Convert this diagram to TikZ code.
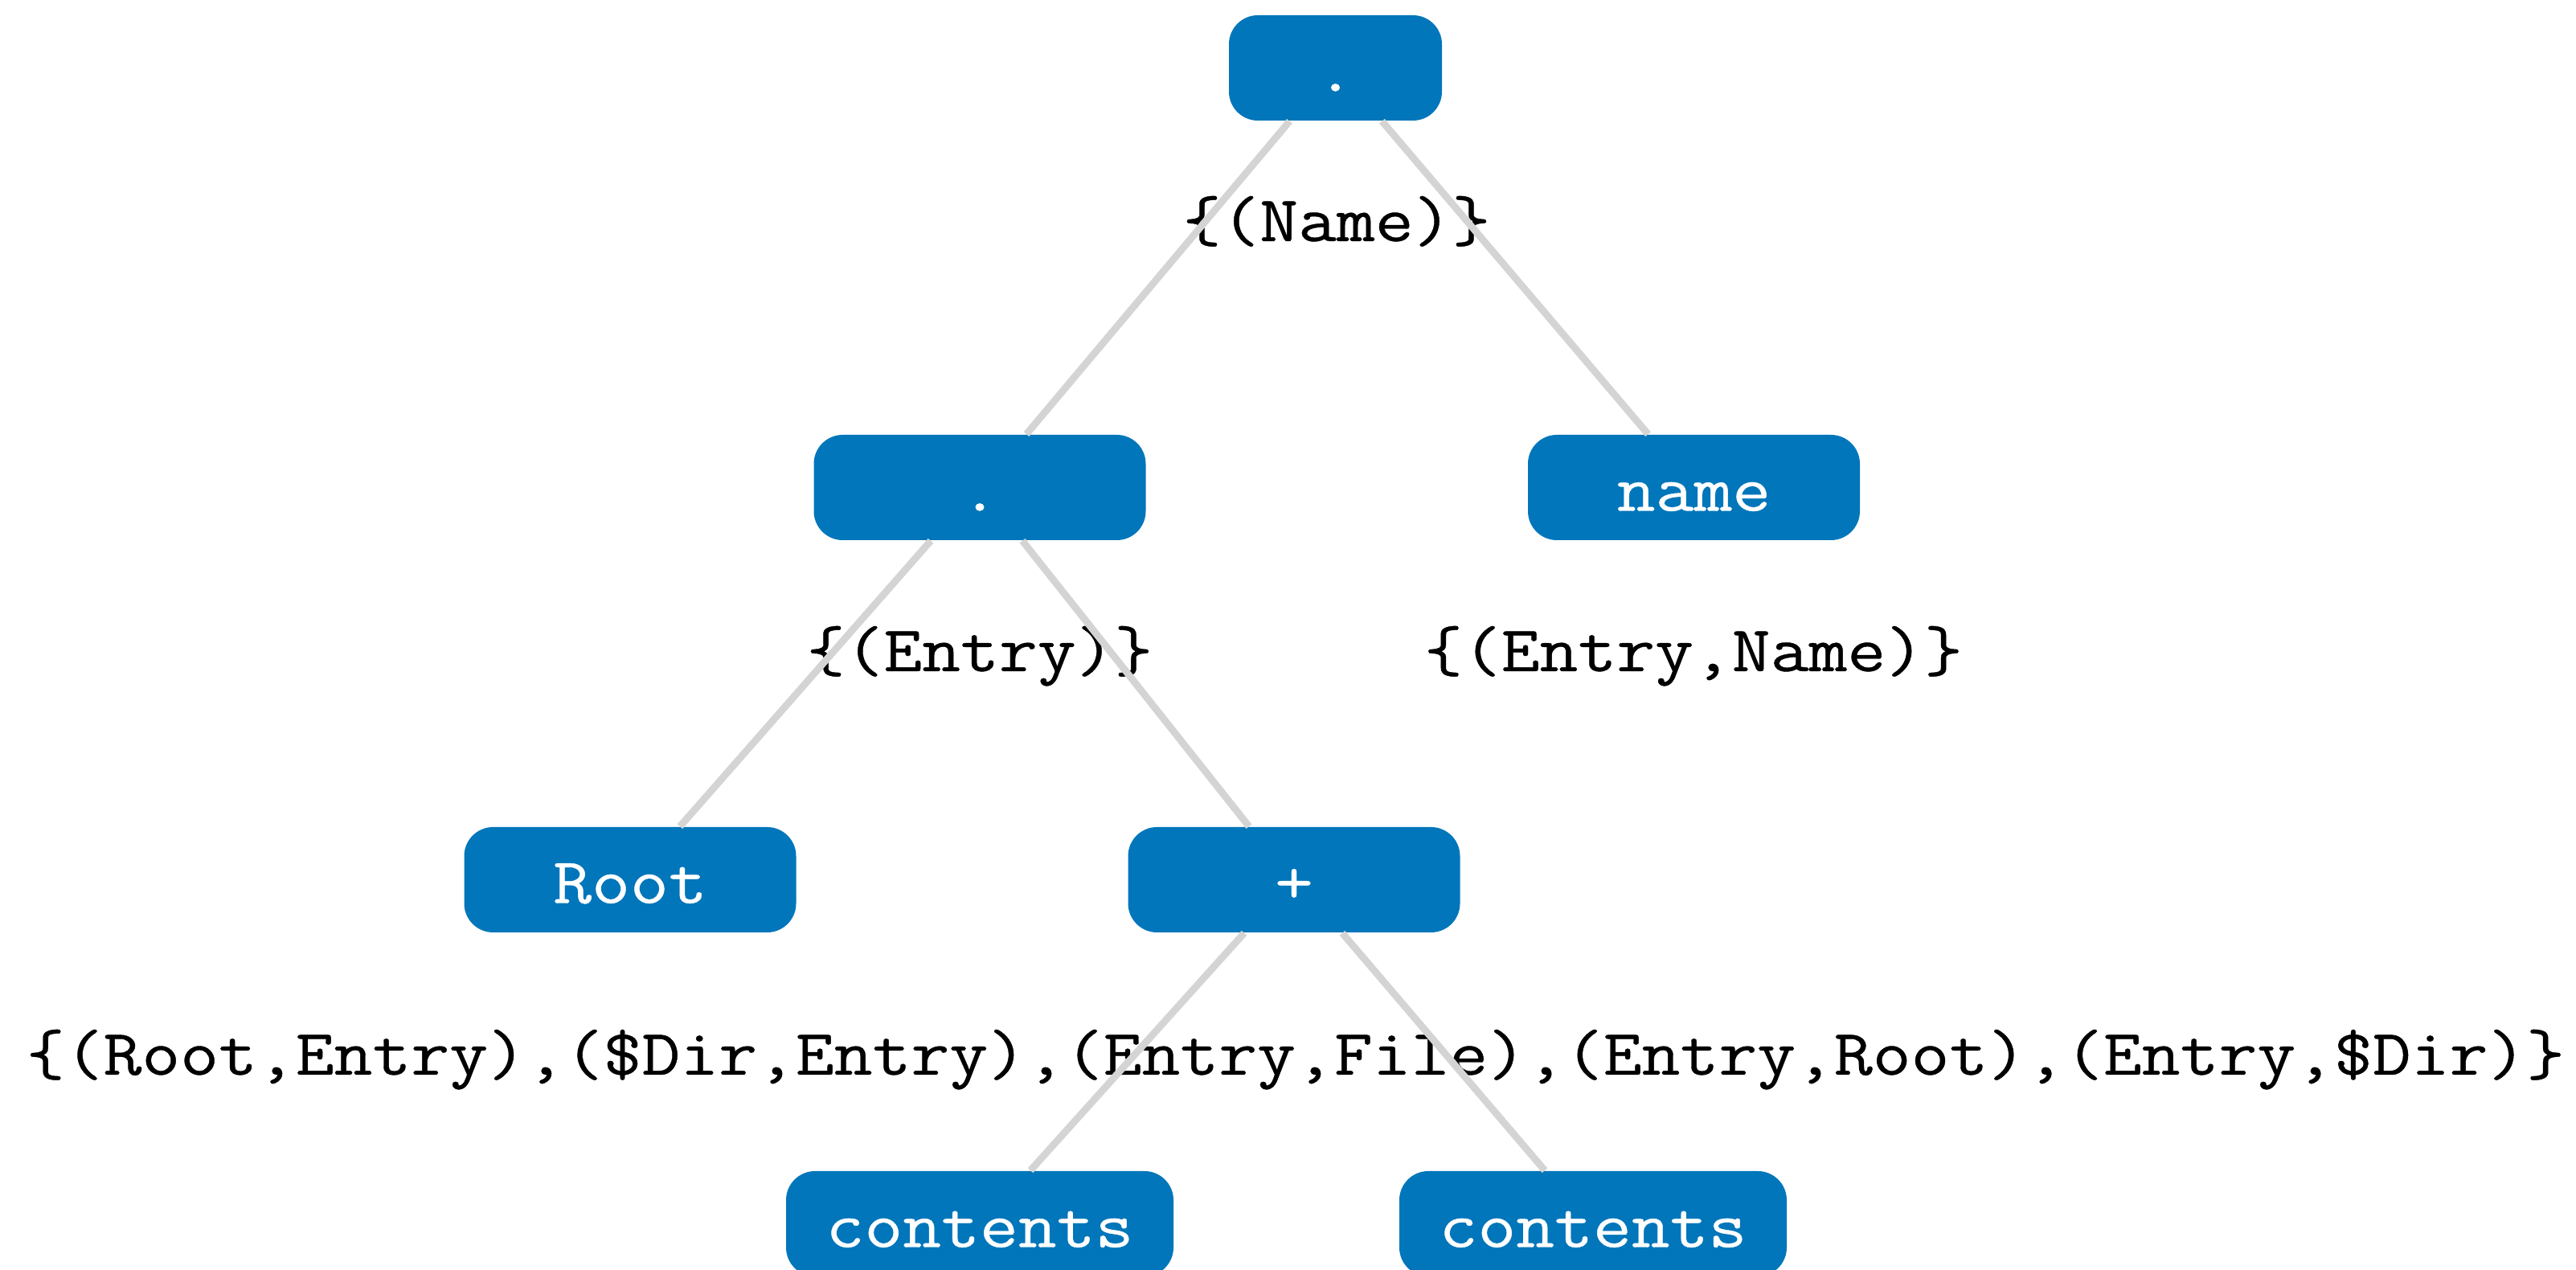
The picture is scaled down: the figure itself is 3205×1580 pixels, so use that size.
\documentclass[tikz,border=0pt]{standalone}
\usepackage{fontspec}
\setmonofont{Latin Modern Mono}[FakeStretch=1.15,FakeBold=0.5]
\usetikzlibrary{calc}
\definecolor{nodeblue}{HTML}{0176BA}
\definecolor{edgegray}{HTML}{D4D4D4}
\begin{document}
\begin{tikzpicture}[x=0.25pt,y=-0.25pt,
  box/.style={fill=nodeblue, text=white, rounded corners=9pt, minimum height=32.75pt,
    text height=14.5pt, text depth=0pt, inner sep=0pt, font=\ttfamily\fontsize{20.2}{24}\selectfont},
  narrowbox/.style={box, minimum width=66.25pt},
  midbox/.style={box, minimum width=103.25pt},
  widebox/.style={box, minimum width=120.5pt},
  lbl/.style={anchor=base, inner sep=0pt, text=black, font=\ttfamily\fontsize{20.2}{24}\selectfont},
  edgeline/.style={draw=edgegray, line width=2.2pt}]
\useasboundingbox (0,0) rectangle (3205,1580);
\clip (0,0) rectangle (3205,1580);
% nodes
\node[narrowbox] (top)  at (1661.5,84.5)  {.};
\node[midbox]    (dotb) at (1219,606.5)   {.};
\node[midbox]    (name) at (2107.5,606.5) {name};
\node[midbox]    (root) at (784,1094.5)   {Root};
\node[midbox]    (plus) at (1610,1094.5)  {+};
\node[widebox]   (ca)   at (1219,1522.5)  {contents};
\node[widebox]   (cb)   at (1982,1522.5)  {contents};
% labels
\node[lbl] (lname)  at (1663,300)  {\{(Name)\}};
\node[lbl] (lentry) at (1219,835)  {\{(Entry)\}};
\node[lbl] (lentn)  at (2107,835)  {\{(Entry,Name)\}};
\node[lbl] (lplus)  at (1612,1337) {\{(Root,Entry),(\$Dir,Entry),(Entry,File),(Entry,Root),(Entry,\$Dir)\}};
% edges
\draw[edgeline] ($(top.south)+(-57,0)$)  -- ($(dotb.north)+(58,0)$);
\draw[edgeline] ($(top.south)+(58,0)$)   -- ($(name.north)+(-57,0)$);
\draw[edgeline] ($(dotb.south)+(-61,0)$) -- ($(root.north)+(62,0)$);
\draw[edgeline] ($(dotb.south)+(53,0)$)  -- ($(plus.north)+(-56,0)$);
\draw[edgeline] ($(plus.south)+(-62,0)$) -- ($(ca.north)+(63,0)$);
\draw[edgeline] ($(plus.south)+(60,0)$)  -- ($(cb.north)+(-60,0)$);
\end{tikzpicture}
\end{document}
